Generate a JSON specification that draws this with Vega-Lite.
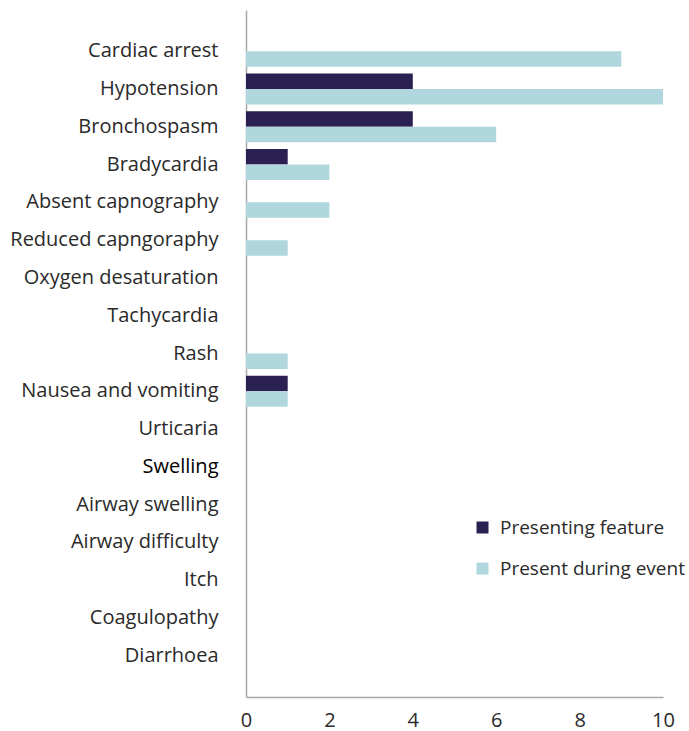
{
  "$schema": "https://vega.github.io/schema/vega-lite/v6.json",
  "autosize": "none",
  "padding": {"left": 246, "top": 10, "right": 26, "bottom": 34},
  "width": 417,
  "height": 687,
  "background": "white",
  "config": {
    "font": "Open Sans",
    "view": {"stroke": null}
  },
  "data": {
    "values": [
      {"symptom": "Cardiac arrest", "series": "Presenting feature", "count": 0},
      {"symptom": "Cardiac arrest", "series": "Present during event", "count": 9},
      {"symptom": "Hypotension", "series": "Presenting feature", "count": 4},
      {"symptom": "Hypotension", "series": "Present during event", "count": 10},
      {"symptom": "Bronchospasm", "series": "Presenting feature", "count": 4},
      {"symptom": "Bronchospasm", "series": "Present during event", "count": 6},
      {"symptom": "Bradycardia", "series": "Presenting feature", "count": 1},
      {"symptom": "Bradycardia", "series": "Present during event", "count": 2},
      {"symptom": "Absent capnography", "series": "Presenting feature", "count": 0},
      {"symptom": "Absent capnography", "series": "Present during event", "count": 2},
      {"symptom": "Reduced capngoraphy", "series": "Presenting feature", "count": 0},
      {"symptom": "Reduced capngoraphy", "series": "Present during event", "count": 1},
      {"symptom": "Oxygen desaturation", "series": "Presenting feature", "count": 0},
      {"symptom": "Oxygen desaturation", "series": "Present during event", "count": 0},
      {"symptom": "Tachycardia", "series": "Presenting feature", "count": 0},
      {"symptom": "Tachycardia", "series": "Present during event", "count": 0},
      {"symptom": "Rash", "series": "Presenting feature", "count": 0},
      {"symptom": "Rash", "series": "Present during event", "count": 1},
      {"symptom": "Nausea and vomiting", "series": "Presenting feature", "count": 1},
      {"symptom": "Nausea and vomiting", "series": "Present during event", "count": 1},
      {"symptom": "Urticaria", "series": "Presenting feature", "count": 0},
      {"symptom": "Urticaria", "series": "Present during event", "count": 0},
      {"symptom": "Swelling", "series": "Presenting feature", "count": 0},
      {"symptom": "Swelling", "series": "Present during event", "count": 0},
      {"symptom": "Airway swelling", "series": "Presenting feature", "count": 0},
      {"symptom": "Airway swelling", "series": "Present during event", "count": 0},
      {"symptom": "Airway difficulty", "series": "Presenting feature", "count": 0},
      {"symptom": "Airway difficulty", "series": "Present during event", "count": 0},
      {"symptom": "Itch", "series": "Presenting feature", "count": 0},
      {"symptom": "Itch", "series": "Present during event", "count": 0},
      {"symptom": "Coagulopathy", "series": "Presenting feature", "count": 0},
      {"symptom": "Coagulopathy", "series": "Present during event", "count": 0},
      {"symptom": "Diarrhoea", "series": "Presenting feature", "count": 0},
      {"symptom": "Diarrhoea", "series": "Present during event", "count": 0}
    ]
  },
  "mark": {"type": "bar"},
  "encoding": {
    "y": {
      "field": "symptom",
      "type": "nominal",
      "sort": null,
      "scale": {"paddingInner": 0.18, "paddingOuter": 0.68, "align": 0.5},
      "axis": {
        "title": null,
        "ticks": false,
        "labelPadding": 28,
        "labelFontSize": 20,
        "labelLimit": 0,
        "labelColor": {"condition": {"test": "datum.value === 'Swelling'", "value": "#000000"}, "value": "#2a2a2a"},
        "labelFontWeight": {"condition": {"test": "datum.value === 'Swelling'", "value": 500}, "value": 400},
        "domainColor": "#a8a8a8",
        "domainWidth": 1.5,
        "grid": false
      }
    },
    "yOffset": {
      "field": "series",
      "type": "nominal",
      "sort": ["Presenting feature", "Present during event"],
      "scale": {"paddingInner": 0, "paddingOuter": 0}
    },
    "x": {
      "field": "count",
      "type": "quantitative",
      "scale": {"domain": [0, 10], "nice": false},
      "axis": {
        "title": null,
        "values": [0, 2, 4, 6, 8, 10],
        "ticks": false,
        "grid": false,
        "labelPadding": 13,
        "labelFontSize": 20,
        "labelColor": "#2a2a2a",
        "domainColor": "#a8a8a8",
        "domainWidth": 1.5,
        "labelFlush": false
      }
    },
    "color": {
      "field": "series",
      "type": "nominal",
      "sort": ["Presenting feature", "Present during event"],
      "scale": {"domain": ["Presenting feature", "Present during event"], "range": ["#2b2052", "#b1d7de"]},
      "legend": {
        "title": null,
        "orient": "none",
        "legendX": 227,
        "legendY": 508,
        "symbolType": "square",
        "symbolSize": 144,
        "symbolOpacity": 1,
        "symbolStrokeWidth": 0,
        "labelFontSize": 19,
        "labelLimit": 0,
        "labelColor": "#2a2a2a",
        "labelOffset": 8,
        "rowPadding": 21
      }
    }
  }
}
